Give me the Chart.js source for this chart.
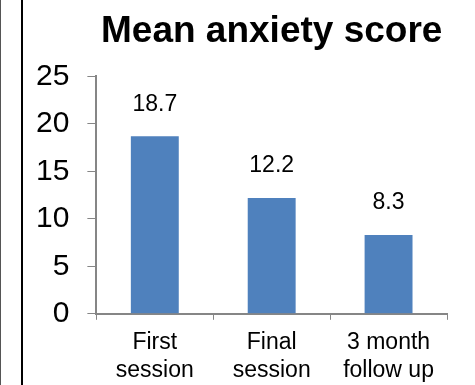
<!DOCTYPE html>
<html>
<head>
<meta charset="utf-8">
<script src="https://cdn.jsdelivr.net/npm/chart.js@4"></script>
<style>
html,body{margin:0;padding:0;background:#fff;}
#wrap{width:475px;height:385px;position:relative;}
</style>
</head>
<body>
<div id="wrap"><canvas id="c" width="475" height="385"></canvas></div>
<script>
const categories = [["First", "session"], ["Final", "session"], ["3 month", "follow up"]];
const meanScores = [18.7, 12.2, 8.3];
const scoreLabels = ["18.7", "12.2", "8.3"];
const yTicks = [0, 5, 10, 15, 20, 25];
const chartTitle = "Mean anxiety score";

const FONT = "'Liberation Sans', Arial, sans-serif";

const frameLines = {
  id: 'frameLines',
  afterDraw(chart) {
    const ctx = chart.ctx;
    ctx.save();
    ctx.strokeStyle = '#555555';
    ctx.lineWidth = 1;
    ctx.beginPath(); ctx.moveTo(0.5, 0); ctx.lineTo(0.5, chart.height); ctx.stroke();
    ctx.strokeStyle = '#000000';
    ctx.lineWidth = 2;
    ctx.beginPath(); ctx.moveTo(22, 0); ctx.lineTo(22, chart.height); ctx.stroke();
    ctx.restore();
  }
};

const valueLabels = {
  id: 'valueLabels',
  afterDatasetsDraw(chart) {
    const ctx = chart.ctx;
    const meta = chart.getDatasetMeta(0);
    ctx.save();
    ctx.font = "23px " + FONT;
    ctx.fillStyle = '#000';
    ctx.textAlign = 'center';
    ctx.textBaseline = 'middle';
    meta.data.forEach((bar, i) => {
      ctx.fillText(scoreLabels[i], bar.x, bar.y - 32);
    });
    ctx.restore();
  }
};

new Chart(document.getElementById('c'), {
  type: 'bar',
  data: {
    labels: categories,
    datasets: [{
      data: meanScores,
      backgroundColor: '#4F81BD',
      borderWidth: 0,
      categoryPercentage: 1.0,
      barPercentage: 0.41
    }]
  },
  options: {
    responsive: false,
    animation: false,
    devicePixelRatio: 1,
    layout: { padding: { left: 18, right: 28, top: 10, bottom: -8 } },
    plugins: {
      legend: { display: false },
      tooltip: { enabled: false },
      title: {
        display: true,
        text: chartTitle,
        fullSize: false,
        color: '#000',
        font: { family: FONT, size: 37, weight: 'bold' },
        padding: { top: 0, bottom: 22 }
      }
    },
    scales: {
      x: {
        grid: {
          display: true,
          drawOnChartArea: false,
          drawTicks: true,
          tickLength: 6,
          color: '#868686',
          offset: true
        },
        border: { display: true, color: '#868686', width: 2 },
        ticks: {
          color: '#000',
          font: { family: FONT, size: 23, lineHeight: 1.2 },
          padding: 9,
          maxRotation: 0,
          autoSkip: false
        }
      },
      y: {
        min: 0,
        max: 25,
        afterBuildTicks(axis) { axis.ticks = yTicks.map(v => ({ value: v })); },
        grid: {
          display: true,
          drawOnChartArea: false,
          drawTicks: true,
          tickLength: 9,
          color: '#868686'
        },
        border: { display: true, color: '#868686', width: 2 },
        ticks: {
          color: '#000',
          font: { family: FONT, size: 30 },
          padding: 18
        }
      }
    }
  },
  plugins: [frameLines, valueLabels]
});
</script>
</body>
</html>
